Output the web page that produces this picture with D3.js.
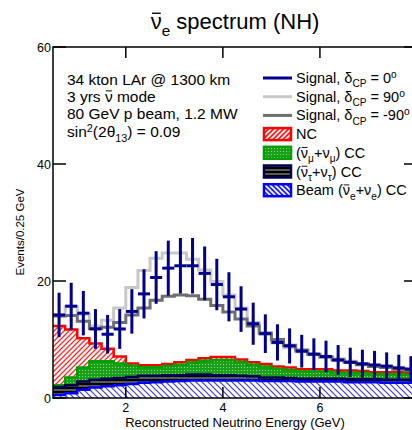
<!DOCTYPE html>
<html>
<head>
<meta charset="utf-8">
<script src="https://d3js.org/d3.v7.min.js"></script>
<style>
body { margin: 0; background: #fff; }
svg { display: block; font-family: "Liberation Sans", Arial, sans-serif; }
</style>
</head>
<body>
<div id="plot"></div>
<script>
// bins: lower edges in GeV, 0.25 GeV wide
var binLow = [0.5, 0.75, 1.0, 1.25, 1.5, 1.75, 2.0, 2.25, 2.5, 2.75,
              3.0, 3.25, 3.5, 3.75, 4.0, 4.25, 4.5, 4.75, 5.0, 5.25,
              5.5, 5.75, 6.0, 6.25, 6.5, 6.75, 7.0, 7.25, 7.5, 7.75];
var binWidth = 0.25;

// stacked backgrounds, bottom to top
var beamNue = [0.5, 0.8, 1.4, 1.8, 2.0, 2.2, 2.4, 2.6, 2.7, 2.8,
               2.9, 3.0, 3.0, 3.0, 3.0, 3.0, 3.0, 2.9, 2.9, 2.9,
               2.8, 2.8, 2.8, 2.8, 2.7, 2.7, 2.7, 2.6, 2.6, 2.6];
var nuTauCC = [1.4, 1.4, 1.4, 1.3, 1.3, 1.2, 1.2, 1.2, 1.1, 1.1,
               1.0, 1.0, 1.0, 0.9, 0.9, 0.8, 0.7, 0.6, 0.6, 0.5,
               0.5, 0.5, 0.5, 0.5, 0.5, 0.5, 0.5, 0.5, 0.5, 0.5];
var nuMuCC = [0.3, 1.3, 2.4, 3.2, 3.0, 2.5, 1.9, 1.45, 1.45, 1.55,
              1.8, 2.1, 2.35, 2.6, 2.6, 2.35, 2.0, 1.9, 1.5, 1.4,
              1.25, 1.25, 1.25, 1.05, 1.15, 1.1, 0.9, 1.0, 1.0, 0.9];
var ncBkg = [10.1, 8.2, 5.0, 3.0, 2.1, 1.2, 0.4, 0.35, 0.35, 0.35,
             0.4, 0.4, 0.45, 0.5, 0.5, 0.45, 0.4, 0.4, 0.4, 0.4,
             0.35, 0.35, 0.35, 0.35, 0.35, 0.3, 0.3, 0.3, 0.3, 0.3];

// signal + background, per dCP
var totDcp0 = [14.2, 15.7, 14.5, 11.8, 10.9, 11.8, 14.8, 17.8, 20.6, 22.2,
               22.6, 22.6, 21.3, 19.4, 17.3, 15.2, 12.7, 11.0, 9.5, 8.9,
               8.0, 7.5, 7.1, 6.5, 6.1, 5.85, 5.65, 5.45, 5.15, 4.95];
var errDcp0 = [3.8, 4.0, 3.8, 3.4, 3.3, 3.4, 3.8, 4.2, 4.5, 4.7,
               4.75, 4.75, 4.6, 4.4, 4.2, 3.9, 3.6, 3.3, 3.1, 3.0,
               2.8, 2.7, 2.7, 2.55, 2.5, 2.4, 2.4, 2.35, 2.25, 2.2];
var totDcp90 = [14.0, 15.6, 14.3, 12.3, 13.3, 15.4, 18.9, 21.8, 23.9, 24.8,
                24.8, 23.7, 21.9, 19.9, 17.6, 15.4, 12.9, 10.9, 9.4, 8.6,
                7.9, 7.4, 7.0, 6.7, 6.3, 5.9, 5.5, 5.3, 5.0, 4.8];
var totDcpM90 = [14.0, 14.1, 13.1, 11.9, 12.1, 12.9, 14.2, 15.4, 16.7, 17.4,
                 17.6, 17.5, 16.9, 15.8, 14.7, 13.5, 12.3, 11.1, 10.0, 9.0,
                 8.2, 7.5, 7.0, 6.5, 6.1, 5.7, 5.4, 5.2, 4.9, 4.7];

var xTicks = [2, 4, 6];
var yTicks = [0, 20, 40, 60];

// plot frame (right axis at 8 GeV sits just outside the window)
var W = 412, H = 430;
var frameL = 53, frameR = 417, frameT = 47, frameB = 398;

var svg = d3.select("#plot")
    .append("svg")
    .attr("width", W)
    .attr("height", H);

var x = d3.scaleLinear().domain([0.5, 8]).range([frameL, frameR]);
var y = d3.scaleLinear().domain([0, 60]).range([frameB, frameT]);

// patterns
var defs = svg.append("defs");
function hatch(id, color, dir, bg, w, s) {
    var p = defs.append("pattern")
        .attr("id", id)
        .attr("patternUnits", "userSpaceOnUse")
        .attr("width", s).attr("height", s);
    p.append("rect").attr("width", s).attr("height", s).attr("fill", bg);
    p.append("path")
        .attr("d", dir > 0
            ? "M0," + s + "L" + s + ",0M-1,1L1,-1M" + (s - 1) + "," + (s + 1) + "L" + (s + 1) + "," + (s - 1)
            : "M0,0L" + s + "," + s + "M-1," + (s - 1) + "L1," + (s + 1) + "M" + (s - 1) + ",-1L" + (s + 1) + ",1")
        .attr("stroke", color)
        .attr("stroke-width", w);
}
hatch("ncHatch", "#ff2a2a", 1, "#fff", 1.3, 5);
hatch("beamHatch", "#3c3ce6", -1, "#fff", 1.2, 6);
hatch("ncLeg", "#fff", 1, "#ff2020", 1.6, 5);
hatch("beamLeg", "#fff", -1, "#2020ff", 1.6, 5);

var dots = defs.append("pattern")
    .attr("id", "muDots")
    .attr("patternUnits", "userSpaceOnUse")
    .attr("width", 3).attr("height", 3);
dots.append("rect").attr("width", 3).attr("height", 3).attr("fill", "#18a018");
dots.append("rect").attr("x", 1).attr("y", 1).attr("width", 1).attr("height", 1).attr("fill", "#9ad09a");

var stripes = defs.append("pattern")
    .attr("id", "tauLines")
    .attr("patternUnits", "userSpaceOnUse")
    .attr("width", 8).attr("height", 4);
stripes.append("rect").attr("width", 8).attr("height", 4).attr("fill", "#000");
stripes.append("rect").attr("y", 1.5).attr("width", 8).attr("height", 1).attr("fill", "#b4b4b4");

defs.append("clipPath").attr("id", "frame")
    .append("rect")
    .attr("x", frameL).attr("y", frameT)
    .attr("width", frameR - frameL).attr("height", frameB - frameT);

// stack table
var comps = [
    {vals: beamNue, fill: "url(#beamHatch)", line: "#0000ff"},
    {vals: nuTauCC, fill: "url(#tauLines)", line: "#000050"},
    {vals: nuMuCC, fill: "url(#muDots)", line: "#00a000"},
    {vals: ncBkg, fill: "url(#ncHatch)", line: "#ff0000"}
];
var base = binLow.map(function() { return 0; });
comps.forEach(function(c) {
    c.lo = base.slice();
    c.hi = base.map(function(b, i) { return b + c.vals[i]; });
    base = c.hi;
});

function stepPts(vals) {
    var pts = binLow.map(function(b, i) { return [b, vals[i]]; });
    pts.push([binLow[binLow.length - 1] + binWidth, vals[vals.length - 1]]);
    return pts;
}

var plot = svg.append("g").attr("clip-path", "url(#frame)");

var area = d3.area()
    .curve(d3.curveStepAfter)
    .x(function(d) { return x(d[0]); })
    .y0(function(d) { return y(d[1]); })
    .y1(function(d) { return y(d[2]); });
var line = d3.line()
    .curve(d3.curveStepAfter)
    .x(function(d) { return x(d[0]); })
    .y(function(d) { return y(d[1]); });

comps.forEach(function(c) {
    var pts = binLow.map(function(b, i) { return [b, c.lo[i], c.hi[i]]; });
    pts.push([binLow[binLow.length - 1] + binWidth, c.lo[c.lo.length - 1], c.hi[c.hi.length - 1]]);
    plot.append("path")
        .attr("d", area(pts))
        .attr("fill", c.fill);
});
// outlines, top of stack first
comps.slice().reverse().forEach(function(c) {
    plot.append("path")
        .attr("d", line(stepPts(c.hi)))
        .attr("fill", "none")
        .attr("stroke", c.line)
        .attr("stroke-width", 2.5);
});

// signal histograms
plot.append("path")
    .attr("d", line(stepPts(totDcp90)))
    .attr("fill", "none")
    .attr("stroke", "#c8c8c8")
    .attr("stroke-width", 3);
plot.append("path")
    .attr("d", line(stepPts(totDcpM90)))
    .attr("fill", "none")
    .attr("stroke", "#6e6e6e")
    .attr("stroke-width", 3);

// dCP = 0 with error bars
var pts0 = plot.append("g")
    .attr("stroke", "#00008c")
    .attr("stroke-width", 3);
pts0.selectAll("line.v")
    .data(totDcp0)
    .enter()
    .append("line")
    .attr("x1", function(d, i) { return x(binLow[i] + binWidth / 2); })
    .attr("x2", function(d, i) { return x(binLow[i] + binWidth / 2); })
    .attr("y1", function(d, i) { return y(d - errDcp0[i]); })
    .attr("y2", function(d, i) { return y(d + errDcp0[i]); });
pts0.selectAll("line.h")
    .data(totDcp0)
    .enter()
    .append("line")
    .attr("x1", function(d, i) { return x(binLow[i]); })
    .attr("x2", function(d, i) { return x(binLow[i] + binWidth); })
    .attr("y1", function(d) { return y(d); })
    .attr("y2", function(d) { return y(d); });

// frame and ticks
svg.append("rect")
    .attr("x", frameL).attr("y", frameT)
    .attr("width", frameR - frameL).attr("height", frameB - frameT)
    .attr("fill", "none")
    .attr("stroke", "#000")
    .attr("stroke-width", 1.5);

var tickLen = 11;
xTicks.forEach(function(t) {
    svg.append("line").attr("x1", x(t)).attr("x2", x(t))
        .attr("y1", frameB).attr("y2", frameB - tickLen)
        .attr("stroke", "#000").attr("stroke-width", 1.5);
    svg.append("line").attr("x1", x(t)).attr("x2", x(t))
        .attr("y1", frameT).attr("y2", frameT + tickLen)
        .attr("stroke", "#000").attr("stroke-width", 1.5);
    svg.append("text")
        .attr("x", x(t)).attr("y", frameB + 14)
        .attr("text-anchor", "middle")
        .style("font-size", "12.5px")
        .text(t);
});
yTicks.forEach(function(t) {
    svg.append("line").attr("x1", frameL).attr("x2", frameL + tickLen + 2)
        .attr("y1", y(t)).attr("y2", y(t))
        .attr("stroke", "#000").attr("stroke-width", 1.5);
    svg.append("line").attr("x1", frameR).attr("x2", frameR - tickLen - 2)
        .attr("y1", y(t)).attr("y2", y(t))
        .attr("stroke", "#000").attr("stroke-width", 1.5);
    svg.append("text")
        .attr("x", frameL - 2).attr("y", y(t) + 4.5)
        .attr("text-anchor", "end")
        .style("font-size", "12.5px")
        .text(t);
});

// axis titles
svg.append("text")
    .attr("transform", "translate(24,232)rotate(-90)")
    .attr("text-anchor", "middle")
    .style("font-size", "11.5px")
    .text("Events/0.25 GeV");
svg.append("text")
    .attr("x", 235).attr("y", 427)
    .attr("text-anchor", "middle")
    .style("font-size", "13px")
    .text("Reconstructed Neutrino Energy (GeV)");

// text with sub/superscripts; parts = [text, "" | "sub" | "sup" | "bar"]
// "bar" = plain text whose first char gets an overline (anti-neutrino)
function rich(sel, parts, size) {
    var shift = 0, count = 0, bars = [];
    parts.forEach(function(p) {
        var target = p[1] === "sub" ? size * 0.3 : p[1] === "sup" ? -size * 0.35 : 0;
        var small = p[1] === "sub" || p[1] === "sup";
        if (p[1] === "bar") bars.push(count);
        sel.append("tspan")
            .attr("dy", target - shift)
            .style("font-size", (small ? size * 0.7 : size) + "px")
            .text(p[0]);
        shift = target;
        count += p[0].length;
    });
    var node = sel.node();
    bars.forEach(function(ci) {
        var e = node.getExtentOfChar(ci);
        svg.append("line")
            .attr("x1", e.x + e.width * 0.12).attr("x2", e.x + e.width * 0.92)
            .attr("y1", e.y + e.height * 0.17).attr("y2", e.y + e.height * 0.17)
            .attr("stroke", "#000")
            .attr("stroke-width", size / 16);
    });
    return sel;
}

// title
rich(svg.append("text")
        .attr("x", 235).attr("y", 29)
        .attr("text-anchor", "middle"),
    [["\u03bd", "bar"], ["e", "sub"], [" spectrum (NH)", ""]], 22);

// info text
var info = [
    [["34 kton LAr @ 1300 km", ""]],
    [["3 yrs ", ""], ["\u03bd", "bar"], [" mode", ""]],
    [["80 GeV p beam, 1.2 MW", ""]],
    [["sin", ""], ["2", "sup"], ["(2\u03b8", ""], ["13", "sub"], [") = 0.09", ""]]
];
var infoY = [85, 102, 119, 137];
info.forEach(function(parts, i) {
    rich(svg.append("text").attr("x", 67).attr("y", infoY[i]), parts, 15.5);
});

// legend
var legRows = [
    {kind: "line", color: "#00008c", parts: [["Signal, \u03b4", ""], ["CP", "sub"], [" = 0", ""], ["o", "sup"]]},
    {kind: "line", color: "#c8c8c8", parts: [["Signal, \u03b4", ""], ["CP", "sub"], [" = 90", ""], ["o", "sup"]]},
    {kind: "line", color: "#6e6e6e", parts: [["Signal, \u03b4", ""], ["CP", "sub"], [" = -90", ""], ["o", "sup"]]},
    {kind: "box", fill: "url(#ncLeg)", color: "#ff0000", parts: [["NC", ""]]},
    {kind: "box", fill: "url(#muDots)", color: "#00a000", parts: [["(", ""], ["\u03bd", "bar"], ["\u03bc", "sub"], ["+\u03bd", ""], ["\u03bc", "sub"], [") CC", ""]]},
    {kind: "box", fill: "url(#tauLines)", color: "#000050", parts: [["(", ""], ["\u03bd", "bar"], ["\u03c4", "sub"], ["+\u03bd", ""], ["\u03c4", "sub"], [") CC", ""]]},
    {kind: "box", fill: "url(#beamLeg)", color: "#0000ff", parts: [["Beam (", ""], ["\u03bd", "bar"], ["e", "sub"], ["+\u03bd", ""], ["e", "sub"], [") CC", ""]]}
];
legRows.forEach(function(r, i) {
    var cy = 78 + i * 18.7;
    if (r.kind === "line") {
        svg.append("line")
            .attr("x1", 263).attr("x2", 292)
            .attr("y1", cy).attr("y2", cy)
            .attr("stroke", r.color).attr("stroke-width", 3);
    } else {
        svg.append("rect")
            .attr("x", 264).attr("y", cy - 6)
            .attr("width", 27).attr("height", 12)
            .attr("fill", r.fill)
            .attr("stroke", r.color).attr("stroke-width", 2.5);
    }
    rich(svg.append("text").attr("x", 296).attr("y", cy + 5), r.parts, 14.5);
});
</script>
</body>
</html>
